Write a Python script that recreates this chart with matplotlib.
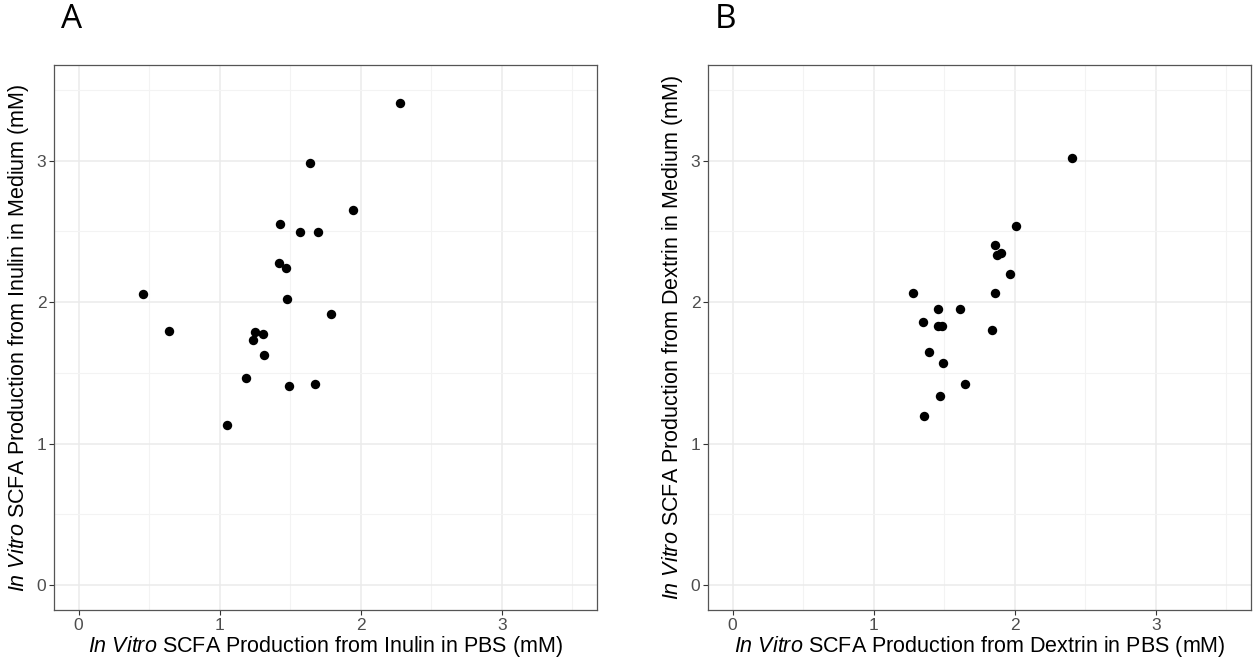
import matplotlib

matplotlib.use("Agg")
import matplotlib.pyplot as plt
from matplotlib.ticker import MultipleLocator

plt.rcParams["font.family"] = ["Liberation Sans", "DejaVu Sans"]
plt.rcParams["mathtext.fontset"] = "custom"
plt.rcParams["mathtext.rm"] = "Liberation Sans"
plt.rcParams["mathtext.it"] = "Liberation Sans:italic"

# panel A: inulin, PBS (x) vs medium (y), mM
inulin_pbs = [2.28, 1.64, 1.947, 1.428, 1.569, 1.698, 1.421, 1.471, 0.456, 1.476,
              1.791, 0.637, 1.249, 1.305, 1.234, 1.315, 1.184, 1.489, 1.673, 1.055]
inulin_med = [3.41, 2.98, 2.653, 2.55, 2.497, 2.494, 2.273, 2.238, 2.056, 2.021,
              1.918, 1.797, 1.792, 1.772, 1.729, 1.623, 1.467, 1.404, 1.425, 1.130]

# panel B: dextrin, PBS (x) vs medium (y), mM
dextrin_pbs = [2.404, 2.01, 1.858, 1.875, 1.905, 1.965, 1.282, 1.86, 1.459, 1.613,
               1.347, 1.456, 1.486, 1.840, 1.394, 1.491, 1.646, 1.469, 1.354]
dextrin_med = [3.016, 2.537, 2.403, 2.33, 2.347, 2.196, 2.062, 2.062, 1.954, 1.949,
               1.863, 1.833, 1.833, 1.803, 1.646, 1.571, 1.422, 1.336, 1.195]

panels = [
    ("A", "Inulin", inulin_pbs, inulin_med),
    ("B", "Dextrin", dextrin_pbs, dextrin_med),
]

W, H = 1253, 659
fig = plt.figure(figsize=(W / 100, H / 100), dpi=100)

# axes boxes in pixels: (left, right, top, bottom)
boxes = [(54, 597, 65, 610), (708, 1251, 65, 610)]
lims = (-0.175, 3.675)

for (letter, fibre, xs, ys), (l, r, t, b) in zip(panels, boxes):
    ax = fig.add_axes([l / W, 1 - b / H, (r - l) / W, (b - t) / H])
    ax.scatter(xs, ys, s=46, color="black", zorder=3, linewidths=0)
    ax.set_xlim(*lims)
    ax.set_ylim(*lims)
    for axis in (ax.xaxis, ax.yaxis):
        axis.set_major_locator(MultipleLocator(1))
        axis.set_minor_locator(MultipleLocator(0.5))
    ax.grid(which="major", color="#EBEBEB", lw=1.1, zorder=0)
    ax.grid(which="minor", color="#F3F3F3", lw=0.8, zorder=0)
    ax.set_axisbelow(True)
    ax.tick_params(which="major", length=3.5, width=0.8, color="#333333",
                   labelsize=12.5, labelcolor="#4D4D4D", pad=2)
    ax.tick_params(which="minor", length=0)
    for sp in ax.spines.values():
        sp.set_color("#555555")
        sp.set_linewidth(0.9)
    ax.set_xlabel(rf"$\it{{In\ Vitro}}$ SCFA Production from {fibre} in PBS (mM)",
                  fontsize=15.5, labelpad=1)
    ax.set_ylabel(rf"$\it{{In\ Vitro}}$ SCFA Production from {fibre} in Medium (mM)",
                  fontsize=15.5, labelpad=4)
    fig.text((l + 18) / W, 1 - 20 / H, letter, fontsize=24, va="center",
             ha="center", family=["Open Sans", "DejaVu Sans"])

fig.savefig("out.png", dpi=100)
